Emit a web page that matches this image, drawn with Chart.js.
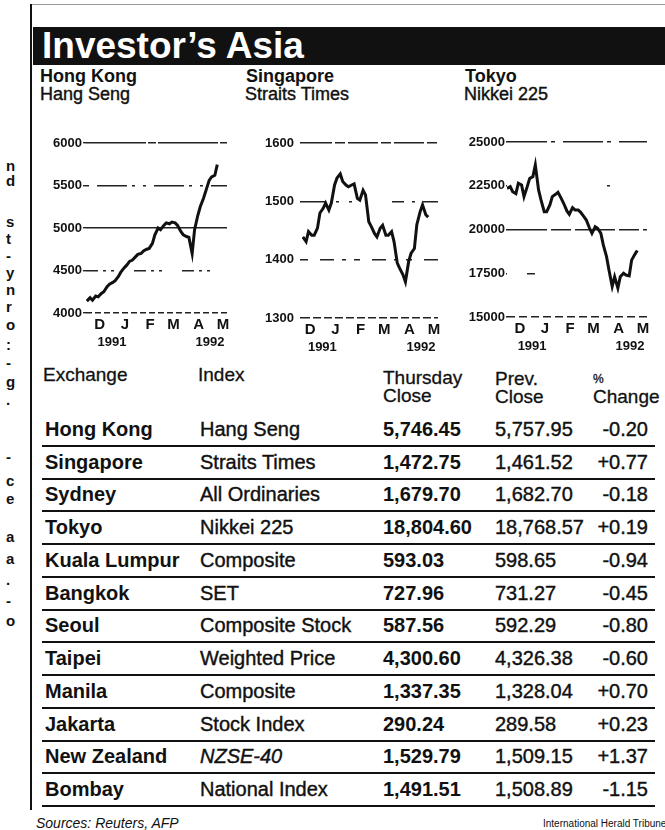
<!DOCTYPE html>
<html>
<head>
<meta charset="utf-8">
<script src="https://cdn.jsdelivr.net/npm/chart.js@4.4.1/dist/chart.umd.min.js"></script>
<style>
body{margin:0;background:#fff;width:665px;height:830px;overflow:hidden;position:relative;font-family:"Liberation Sans",Arial,sans-serif;color:#111}
.abs{position:absolute;white-space:nowrap}
.thick{-webkit-text-stroke:0.4px #111}
canvas{position:absolute}
.row{position:absolute;left:42px;width:613px;height:31px;border-bottom:2px solid #111}
.row div{position:absolute;top:0;line-height:31px;font-size:20px;white-space:nowrap}
.hd{position:absolute;font-size:19px;line-height:18px;white-space:nowrap;-webkit-text-stroke:0.3px #111}
</style>
</head>
<body>
<div class="abs" style="left:30px;top:4px;width:635px;height:1px;background:#999"></div>
<div class="abs" style="left:30px;top:4px;width:2px;height:806px;background:#111"></div>
<div class="abs" style="left:33px;top:27px;width:632px;height:38px;background:#111;color:#fff;font-weight:bold;font-size:37px;line-height:38px;padding-left:9px;box-sizing:border-box">Investor’s Asia</div>

<div class="abs" style="left:40px;top:66px;font-size:18px;font-weight:bold">Hong Kong</div>
<div class="abs thick" style="left:40px;top:84px;font-size:18px">Hang Seng</div>
<div class="abs" style="left:246px;top:66px;font-size:18px;font-weight:bold">Singapore</div>
<div class="abs thick" style="left:245px;top:84px;font-size:18px">Straits Times</div>
<div class="abs" style="left:465px;top:66px;font-size:18px;font-weight:bold">Tokyo</div>
<div class="abs thick" style="left:464px;top:84px;font-size:18px">Nikkei 225</div>

<canvas id="hk" width="192" height="223" style="left:43px;top:128px"></canvas>
<canvas id="sg" width="187" height="228" style="left:259px;top:128px"></canvas>
<canvas id="tk" width="191" height="228" style="left:464px;top:127px"></canvas>

<div class="hd" style="left:43px;top:366px">Exchange</div>
<div class="hd" style="left:198px;top:366px">Index</div>
<div class="hd" style="left:383px;top:369px">Thursday<br>Close</div>
<div class="hd" style="left:495px;top:370px">Prev.<br>Close</div>
<div class="hd" style="left:593px;top:368px"><span style="font-size:12px">%</span><br>Change</div>

<div id="table"></div>
<div id="margin"></div>

<div class="abs" style="left:36px;top:815px;font-size:14px;font-style:italic">Sources: Reuters, AFP</div>
<div class="abs" style="left:543px;top:818px;font-size:10px">International Herald Tribune</div>

<script>
// trading days counted from 1 Dec 1991
var days = [-16,-12,-9,-5,-2,2,5,9,12,16,19,23,26,30,33,37,40,44,47,51,54,58,61,65,68,72,75,79,82,86,89,93,96,100,103,107,110,114,117,121,124,128,131,135,138,142,145];

var hangSeng = [4140,4180,4150,4200,4190,4230,4250,4310,4340,4360,4380,4430,4480,4530,4560,4610,4620,4660,4690,4700,4730,4750,4760,4820,4920,5000,4980,5030,5060,5050,5070,5060,5030,4960,4920,4900,4890,4700,4980,5150,5250,5350,5440,5560,5600,5620,5746];
var straitsTimes = [null,null,1439,1431,1448,1442,1442,1454,1480,1488,1497,1485,1497,1528,1540,1547,1534,1528,1525,1528,1530,1505,1502,1519,1511,1465,1457,1445,1439,1454,1459,1442,1442,1448,1431,1394,1385,1374,1362,1397,1411,1419,1460,1482,1494,1477,1473];
var nikkei = [22350,22450,22160,22050,22640,22540,21880,22450,22920,23020,23690,22260,21690,21020,21020,21400,21880,22010,22120,21780,21500,21060,20870,21250,21120,21120,20980,20730,20540,20070,19780,20160,20070,19780,19120,18450,17690,16750,17300,16650,17300,17500,17400,17350,18250,18580,18805];

var monthDays = [0,31,62,91,122,152];
var monthLabels = ['D','J','F','M','A','M'];
var yearDays = [15,136];
var yearLabels = ['1991','1992'];

var exchanges = ['Hong Kong','Singapore','Sydney','Tokyo','Kuala Lumpur','Bangkok','Seoul','Taipei','Manila','Jakarta','New Zealand','Bombay'];
var indexNames = ['Hang Seng','Straits Times','All Ordinaries','Nikkei 225','Composite','SET','Composite Stock','Weighted Price','Composite','Stock Index','NZSE-40','National Index'];
var thursdayClose = ['5,746.45','1,472.75','1,679.70','18,804.60','593.03','727.96','587.56','4,300.60','1,337.35','290.24','1,529.79','1,491.51'];
var prevClose = ['5,757.95','1,461.52','1,682.70','18,768.57','598.65','731.27','592.29','4,326.38','1,328.04','289.58','1,509.15','1,508.89'];
var pctChange = ['-0.20','+0.77','-0.18','+0.19','-0.94','-0.45','-0.80','-0.60','+0.70','+0.23','+1.37','-1.15'];

var font = '"Liberation Sans", Arial, sans-serif';

function makeChart(id, values, o) {
    var pts = days.map(function (d, i) { return {x: d, y: values[i]}; });
    return new Chart(document.getElementById(id), {
        type: 'line',
        data: {datasets: [{data: pts, borderColor: '#111', borderWidth: 3, pointRadius: 0, tension: 0}]},
        options: {
            responsive: false, animation: false, devicePixelRatio: 1,
            layout: {padding: {top: 15, right: 8, left: 0, bottom: 0}},
            plugins: {legend: {display: false}, tooltip: {enabled: false}},
            scales: {
                x: {
                    type: 'linear', min: o.xMin, max: 157,
                    grid: {display: false, drawTicks: false}, border: {display: false},
                    afterBuildTicks: function (s) { s.ticks = monthDays.map(function (v) { return {value: v}; }); },
                    afterFit: function (s) { s.height = 22; },
                    ticks: {autoSkip: false, maxRotation: 0, padding: 3, color: '#111',
                        font: {family: font, size: 15, weight: 'bold'},
                        callback: function (v, i) { return monthLabels[i]; }}
                },
                x2: {
                    type: 'linear', position: 'bottom', min: o.xMin, max: 157,
                    grid: {display: false, drawTicks: false}, border: {display: false},
                    afterBuildTicks: function (s) { s.ticks = yearDays.map(function (v) { return {value: v}; }); },
                    afterFit: function (s) { s.height = 16; },
                    ticks: {autoSkip: false, maxRotation: 0, padding: 0, color: '#111',
                        font: {family: font, size: 13, weight: 'bold'},
                        callback: function (v, i) { return yearLabels[i]; }}
                },
                y: {
                    min: o.yMin, max: o.yMax,
                    afterFit: function (s) { s.width = 43; },
                    grid: {color: '#222', lineWidth: 1.4, tickLength: o.tickLen, tickColor: '#222'},
                    border: {display: false, dash: function (c) { return c.index === undefined ? [] : (o.dashes[c.index] || []); }},
                    ticks: {stepSize: o.step, padding: o.pad, color: '#111',
                        font: {family: font, size: 13, weight: 'bold'},
                        callback: function (v) { return String(v); }}
                }
            }
        }
    });
}

makeChart('hk', hangSeng, {xMin: -17, yMin: 4000, yMax: 6000, step: 500, tickLen: 3, pad: 1,
    dashes: [[6, 3], [12, 5, 3, 5, 3, 20], [], [3, 8, 30, 5, 3, 8], [60, 2, 8, 2]]});
makeChart('sg', straitsTimes, {xMin: -10, yMin: 1300, yMax: 1600, step: 100, tickLen: 2, pad: 6,
    dashes: [[8, 3], [6, 12, 14, 8, 4, 8], [24, 10, 3, 10, 3, 40, 12, 8, 3, 8], [30, 3, 10, 3]]});
makeChart('tk', nikkei, {xMin: -16, yMin: 15000, yMax: 25000, step: 2500, tickLen: 1, pad: 1,
    dashes: [[8, 4], [0, 20, 8, 300], [40, 4, 20, 4], [0, 100, 3, 300], [40, 4, 4, 8]]});

// table rows
var table = document.getElementById('table');
exchanges.forEach(function (name, i) {
    var row = document.createElement('div');
    row.className = 'row';
    row.style.top = (414 + i * 32.73) + 'px';
    row.innerHTML =
        '<div style="left:3px;font-weight:bold">' + name + '</div>' +
        '<div class="thick" style="left:158px;' + (name === 'New Zealand' ? 'font-style:italic;' : '') + '">' + indexNames[i] + '</div>' +
        '<div style="left:341px;font-weight:bold">' + thursdayClose[i] + '</div>' +
        '<div class="thick" style="left:453px">' + prevClose[i] + '</div>' +
        '<div class="thick" style="right:7px">' + pctChange[i] + '</div>';
    table.appendChild(row);
});

// fragments of the neighbouring column
var marginChars = ['n','d','s','t','-','y','n','r','o',':','-','g','.','-','c','e','a','a','.','-','o'];
var marginY = [157,172,213,230,247,264,281,298,316,336,354,373,391,448,472,490,528,550,571,592,612];
var margin = document.getElementById('margin');
marginChars.forEach(function (ch, i) {
    var d = document.createElement('div');
    d.className = 'abs';
    d.style.cssText = 'left:6px;top:' + marginY[i] + 'px;font-size:15px;font-weight:bold';
    d.textContent = ch;
    margin.appendChild(d);
});
</script>
</body>
</html>
